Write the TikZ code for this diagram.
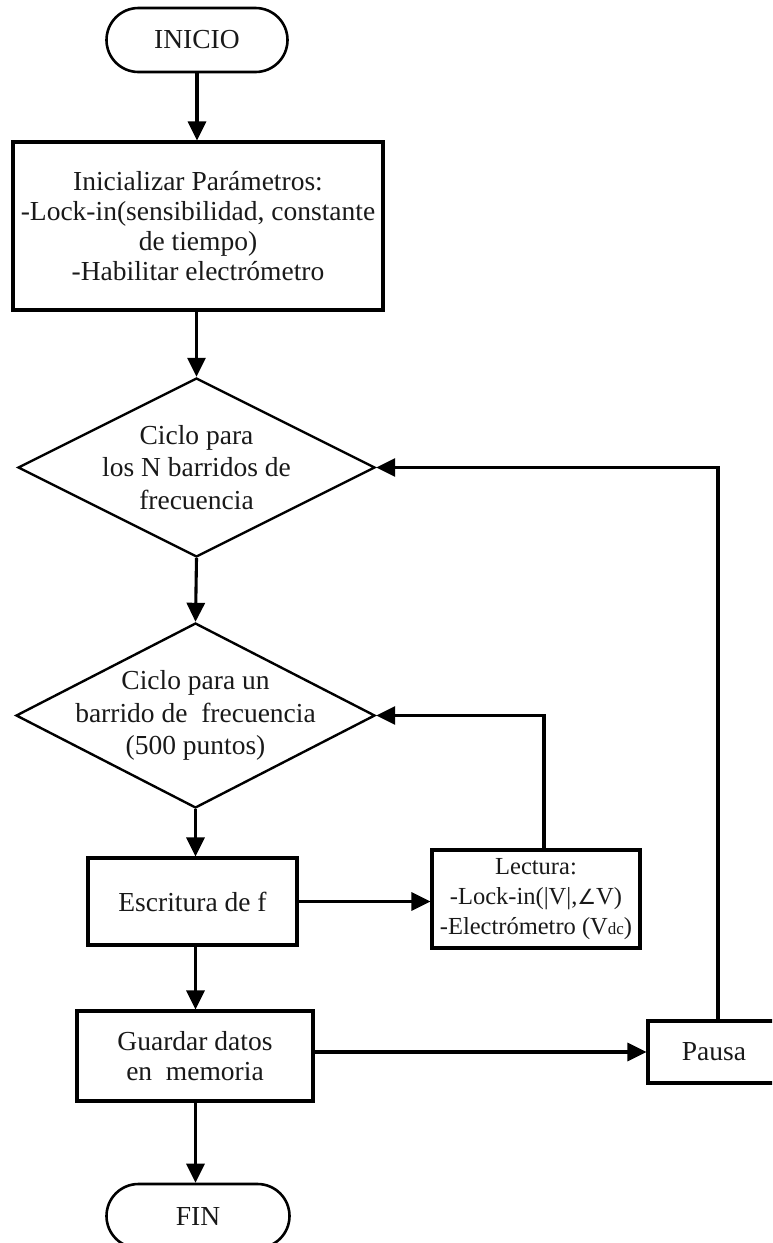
\documentclass[tikz,border=0pt]{standalone}
\usepackage{fontspec}
\setmainfont{Liberation Serif}
\newfontfamily\symfont{DejaVu Sans}
\usetikzlibrary{arrows.meta,shapes.geometric}

\begin{document}
\begin{tikzpicture}[x=1pt,y=-1pt,
  every node/.style={font=\fontsize{27.5}{30}\selectfont, align=center, text=black!90},
  box/.style={draw, line width=3.1pt, rectangle, inner sep=0pt},
  term/.style={draw, line width=2.6pt, rectangle, rounded corners=32pt,
               minimum height=64pt, inner sep=0pt},
  decision/.style={draw, line width=2.4pt, diamond, inner sep=0pt},
  dtext/.style={font=\fontsize{27.5}{32.5}\selectfont},
  small/.style={font=\fontsize{24.5}{30}\selectfont},
  flow/.style={line width=3.1pt, -{Triangle[length=19pt,width=18pt]}}
]
\useasboundingbox (0,0) rectangle (772,1243);
\clip (0,0) rectangle (772,1243);

% start and end
\node[term, minimum width=181pt] (ini) at (197,40) {INICIO};
\node[term, minimum width=183pt] (fin) at (198,1216) {FIN};

% parameter set-up
\node[box, minimum width=370pt, minimum height=168pt] (param) at (198,226)
  {Inicializar Parámetros:\\-Lock-in(sensibilidad, constante\\de tiempo)\\-Habilitar electrómetro};

% loops
\node[decision, minimum width=357pt, minimum height=179pt] (d1) at (196.5,467.5)
  {\phantom{x}};
\node[dtext] at (d1.center) {Ciclo para\\los N barridos de\\frecuencia};

\node[decision, minimum width=359pt, minimum height=185pt] (d2) at (195.5,715.5)
  {\phantom{x}};
\node[dtext] at (d2.center) {Ciclo para un\\barrido de \ frecuencia\\(500 puntos)};

% loop body
\node[box, minimum width=209pt, minimum height=87pt] (esc) at (192.5,901.5)
  {Escritura de f};
\node[box, small, minimum width=208pt, minimum height=98pt] (lect) at (536,899)
  {Lectura:\\-Lock-in(|V|,{\symfont\fontsize{21}{21}\selectfont ∠}V)\\-Electrómetro (V{\fontsize{17}{17}\selectfont dc})};
\node[box, minimum width=236pt, minimum height=90pt] (guard) at (195,1056)
  {Guardar datos\\ en \ memoria};
\node[box, minimum width=132pt, minimum height=62pt] (pausa) at (714,1052)
  {Pausa};

% connectors
\draw[flow] (ini.south) -- (ini.south |- param.north);
\draw[flow] (param.south) -- (param.south -| d1.north) -- (d1.north);
\draw[flow] (d1.south) -- (d2.north);
\draw[flow] (d2.south) -- (d2.south |- esc.north);
\draw[flow] (esc.east) -- (esc.east -| lect.west);
\coordinate (lectup) at ([xshift=8pt]lect.north);
\draw[flow] (lectup) -- (lectup |- d2.east) -- (d2.east);
\draw[flow] (d2.south |- esc.south) -- (d2.south |- guard.north);
\draw[flow] (guard.east |- pausa.west) -- (pausa.west);
\coordinate (pausaup) at ([xshift=4pt]pausa.north);
\draw[flow] (pausaup) -- (pausaup |- d1.east) -- (d1.east);
\draw[flow] (d2.south |- guard.south) -- (d2.south |- fin.north);
\end{tikzpicture}
\end{document}
